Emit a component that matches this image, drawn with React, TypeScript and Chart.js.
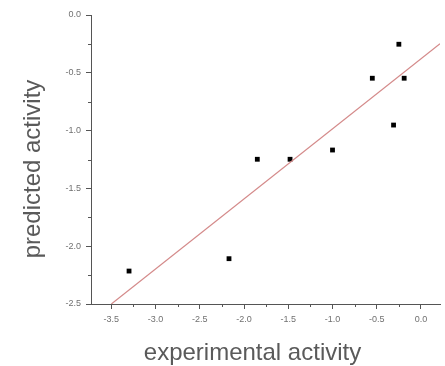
import { useEffect, useRef } from "react";
import { Chart, registerables } from "chart.js";

Chart.register(...registerables);

const experimental = [-3.3, -2.17, -1.85, -1.48, -1.0, -0.55, -0.31, -0.25, -0.19];
const predicted = [-2.215, -2.108, -1.248, -1.248, -1.168, -0.547, -0.952, -0.253, -0.547];
const fitX = [-3.5, 0.215];
const fitY = [-2.5, -0.249];
const xTicks = [-3.5, -3.0, -2.5, -2.0, -1.5, -1.0, -0.5, 0.0];
const xTickLabels = ["-3.5", "-3.0", "-2.5", "-2.0", "-1.5", "-1.0", "-0.5", "0.0"];
const yTicks = [0.0, -0.5, -1.0, -1.5, -2.0, -2.5];
const yTickLabels = ["0.0", "-0.5", "-1.0", "-1.5", "-2.0", "-2.5"];
const xMinorTicks = [-3.25, -2.75, -2.25, -1.75, -1.25, -0.75, -0.25];
const yMinorTicks = [-0.25, -0.75, -1.25, -1.75, -2.25];
const xTitle = "experimental activity";
const yTitle = "predicted activity";

const AXIS = "#555555";
const TICKTXT = "#707070";
const TITLE = "#5a5a5a";

const extrasPlugin = {
  id: "extras",
  afterDraw(chart: any) {
    const ctx = chart.ctx;
    const xs = chart.scales.x;
    const ys = chart.scales.y;
    const area = chart.chartArea;
    ctx.save();
    ctx.strokeStyle = AXIS;
    ctx.lineWidth = 1;
    ctx.beginPath();
    xMinorTicks.forEach((v) => {
      const px = Math.round(xs.getPixelForValue(v)) + 0.5;
      ctx.moveTo(px, area.bottom);
      ctx.lineTo(px, area.bottom + 3);
    });
    yMinorTicks.forEach((v) => {
      const py = Math.round(ys.getPixelForValue(v)) + 0.5;
      ctx.moveTo(area.left - 3, py);
      ctx.lineTo(area.left, py);
    });
    ctx.stroke();

    ctx.fillStyle = TITLE;
    ctx.font = '24px "Liberation Sans", Arial, sans-serif';
    ctx.textAlign = "center";
    ctx.textBaseline = "alphabetic";
    ctx.fillText(xTitle, 252.5, 360);
    ctx.translate(39.5, 169);
    ctx.rotate(-Math.PI / 2);
    ctx.fillText(yTitle, 0, 0);
    ctx.restore();
  },
};

export default function App() {
  const ref = useRef<HTMLCanvasElement | null>(null);
  useEffect(() => {
    if (!ref.current) return;
    const chart = new Chart(ref.current, {
      type: "scatter",
      data: {
        datasets: [
          {
            type: "line",
            data: fitX.map((x, i) => ({ x, y: fitY[i] })),
            borderColor: "#d48a8a",
            borderWidth: 1.2,
            pointRadius: 0,
            fill: false,
          } as any,
          {
            type: "scatter",
            data: experimental.map((x, i) => ({ x, y: predicted[i] })),
            pointStyle: "rect",
            pointRadius: 3.4,
            backgroundColor: "#000000",
            borderColor: "#000000",
            borderWidth: 0,
          },
        ],
      },
      options: {
        animation: false,
        responsive: false,
        maintainAspectRatio: false,
        layout: { padding: { left: 0, right: 5, top: 15, bottom: 0 } },
        plugins: { legend: { display: false }, tooltip: { enabled: false }, title: { display: false } },
        scales: {
          x: {
            type: "linear",
            min: -3.73,
            max: 0.215,
            afterBuildTicks: (scale: any) => {
              scale.ticks = xTicks.map((v) => ({ value: v }));
            },
            afterFit: (scale: any) => {
              scale.height = 62;
            },
            ticks: {
              autoSkip: false,
              maxRotation: 0,
              padding: 5,
              color: TICKTXT,
              font: { family: '"Liberation Sans", Arial, sans-serif', size: 9 },
              callback: (value: any) => {
                const i = xTicks.findIndex((t) => Math.abs(t - value) < 1e-9);
                return i >= 0 ? xTickLabels[i] : "";
              },
            },
            grid: { drawOnChartArea: false, drawTicks: true, tickLength: 5, tickColor: AXIS, tickWidth: 1 },
            border: { display: true, color: AXIS, width: 1 },
          },
          y: {
            type: "linear",
            min: -2.5,
            max: 0,
            afterBuildTicks: (scale: any) => {
              scale.ticks = yTicks.map((v) => ({ value: v }));
            },
            afterFit: (scale: any) => {
              scale.width = 91;
            },
            ticks: {
              autoSkip: false,
              padding: 5,
              color: TICKTXT,
              font: { family: '"Liberation Sans", Arial, sans-serif', size: 9 },
              callback: (value: any) => {
                const i = yTicks.findIndex((t) => Math.abs(t - value) < 1e-9);
                return i >= 0 ? yTickLabels[i] : "";
              },
            },
            grid: { drawOnChartArea: false, drawTicks: true, tickLength: 5, tickColor: AXIS, tickWidth: 1 },
            border: { display: true, color: AXIS, width: 1 },
          },
        },
      },
      plugins: [extrasPlugin],
    });
    return () => chart.destroy();
  }, []);
  return (
    <div style={{ position: "absolute", left: 0, top: 0, width: 445, height: 366, background: "#ffffff" }}>
      <canvas ref={ref} width={445} height={366} style={{ width: 445, height: 366, display: "block" }} />
    </div>
  );
}
